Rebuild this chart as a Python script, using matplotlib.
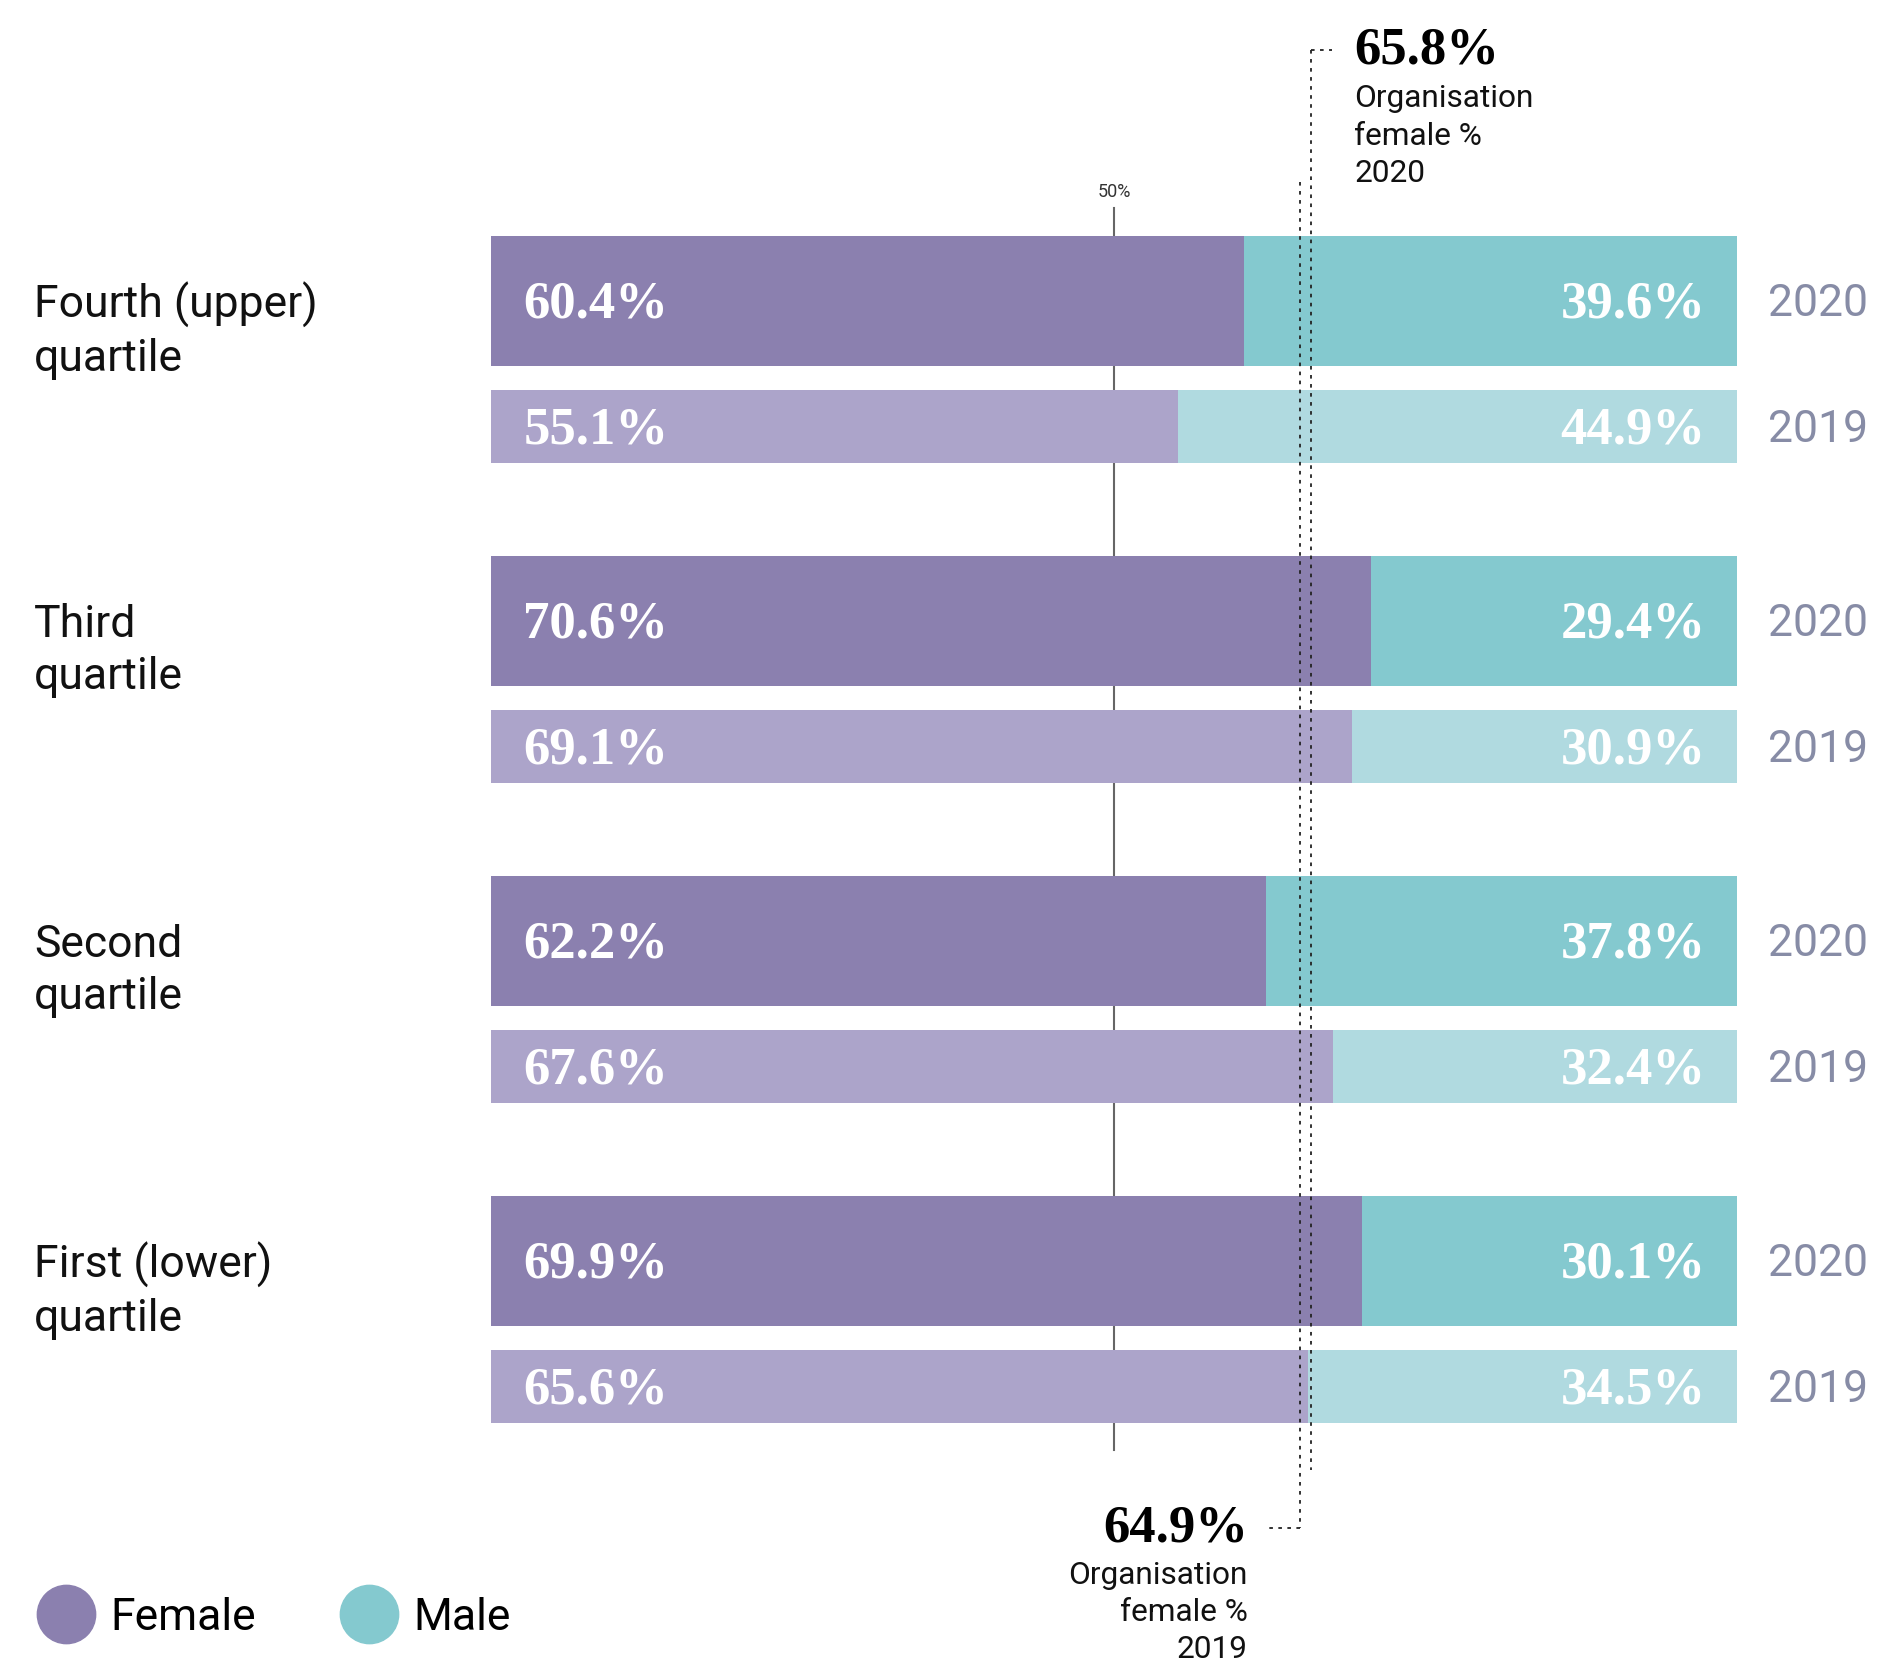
import matplotlib
matplotlib.use("Agg")
import matplotlib.pyplot as plt
from matplotlib.lines import Line2D
from matplotlib.transforms import blended_transform_factory

# data
quartiles = ["Fourth (upper)\nquartile", "Third\nquartile", "Second\nquartile", "First (lower)\nquartile"]
female_2020 = [60.4, 70.6, 62.2, 69.9]
male_2020 = [39.6, 29.4, 37.8, 30.1]
female_2019 = [55.1, 69.1, 67.6, 65.6]
male_2019 = [44.9, 30.9, 32.4, 34.5]
years = ["2020", "2019"]
org_2020 = 65.8
org_2019 = 64.9

# colours
c_f20, c_f19 = "#8b80af", "#aca4ca"
c_m20, c_m19 = "#84c9cf", "#b0dae0"
c_year = "#878ca6"

W, H = 1881, 1667
fig = plt.figure(figsize=(W / 100, H / 100), dpi=100)
ax = fig.add_axes([491 / W, 0, 1246 / W, 1])
ax.set_xlim(0, 100)
# one unit = one quartile group (320 px), first 2020 bar centred at 301 px
ax.set_ylim((H - 301) / 320, -301 / 320)
ax.axis("off")

def py(p):
    # pixel row -> data y
    return (p - 301) / 320

sans = "Roboto"
serif = "Liberation Serif"
nudge = 3 / 320

idx = list(range(len(quartiles)))
y20 = [i for i in idx]
y19 = [i + 126 / 320 for i in idx]

ax.barh(y20, female_2020, height=130 / 320, color=c_f20, zorder=2)
ax.barh(y20, male_2020, left=female_2020, height=130 / 320, color=c_m20, zorder=2)
ax.barh(y19, female_2019, height=73 / 320, color=c_f19, zorder=2)
ax.barh(y19, male_2019, left=female_2019, height=73 / 320, color=c_m19, zorder=2)

# 50% reference
ax.plot([50, 50], [py(208), py(1450)], color="#666666", lw=1.5, zorder=1)
ax.text(50, py(192), "50%", ha="center", va="center", fontsize=13, family=sans, color="#333333")

# value labels
for yy, fv, mv in list(zip(y20, female_2020, male_2020)) + list(zip(y19, female_2019, male_2019)):
    ax.text(2.6, yy + nudge, f"{fv:.1f}%", ha="left", va="center", fontsize=38, family=serif,
            weight="bold", color="white", zorder=3)
    ax.text(97.5, yy + nudge, f"{mv:.1f}%", ha="right", va="center", fontsize=38, family=serif,
            weight="bold", color="white", zorder=3)

# year and category labels
tr = blended_transform_factory(fig.transFigure, ax.transData)
for i in idx:
    ax.text(1768 / W, y20[i] + nudge, years[0], transform=tr, ha="left", va="center",
            fontsize=32, family=sans, color=c_year)
    ax.text(1768 / W, y19[i] + nudge, years[1], transform=tr, ha="left", va="center",
            fontsize=32, family=sans, color=c_year)
    ax.text(34 / W, i + 30 / 320, quartiles[i], transform=tr, ha="left", va="center",
            fontsize=32, family=sans, color="#111111", linespacing=1.3)

# organisation averages
dot = (0, (2, 3))
ax.plot([org_2020, org_2020], [py(50), py(1470)], color="#222222", lw=1.3, ls=dot, zorder=4)
ax.plot([org_2020, 67.5], [py(50), py(50)], color="#222222", lw=1.3, ls=dot, zorder=4)
ax.plot([org_2019, org_2019], [py(182), py(1528)], color="#222222", lw=1.3, ls=dot, zorder=4)
ax.plot([org_2019, 62.4], [py(1528), py(1528)], color="#222222", lw=1.3, ls=dot, zorder=4)

ax.text(1354 / W, py(50), f"{org_2020:.1f}%", transform=tr, ha="left", va="center",
        fontsize=38, family=serif, weight="bold", color="black")
ax.text(1354 / W, py(84), "Organisation\nfemale %\n2020", transform=tr, ha="left", va="top",
        fontsize=22.8, family=sans, color="#111111", linespacing=1.38)
ax.text(1248 / W, py(1528), f"{org_2019:.1f}%", transform=tr, ha="right", va="center",
        fontsize=38, family=serif, weight="bold", color="black")
ax.text(1248 / W, py(1561), "Organisation\nfemale %\n2019", transform=tr, ha="right", va="top",
        fontsize=22.8, family=sans, color="#111111", linespacing=1.35,
        multialignment="right")

# legend
handles = [Line2D([], [], ls="none", marker="o", markersize=42, color=c_f20, label="Female"),
           Line2D([], [], ls="none", marker="o", markersize=42, color=c_m20, label="Male")]
fig.legend(handles=handles, loc="center left", bbox_to_anchor=(-0.0005, 1 - 1618 / H), ncol=2,
           frameon=False, handletextpad=0.4, columnspacing=1.95, handlelength=1.2,
           prop={"family": sans, "size": 32})

fig.savefig("out.png", dpi=100, facecolor="white")
